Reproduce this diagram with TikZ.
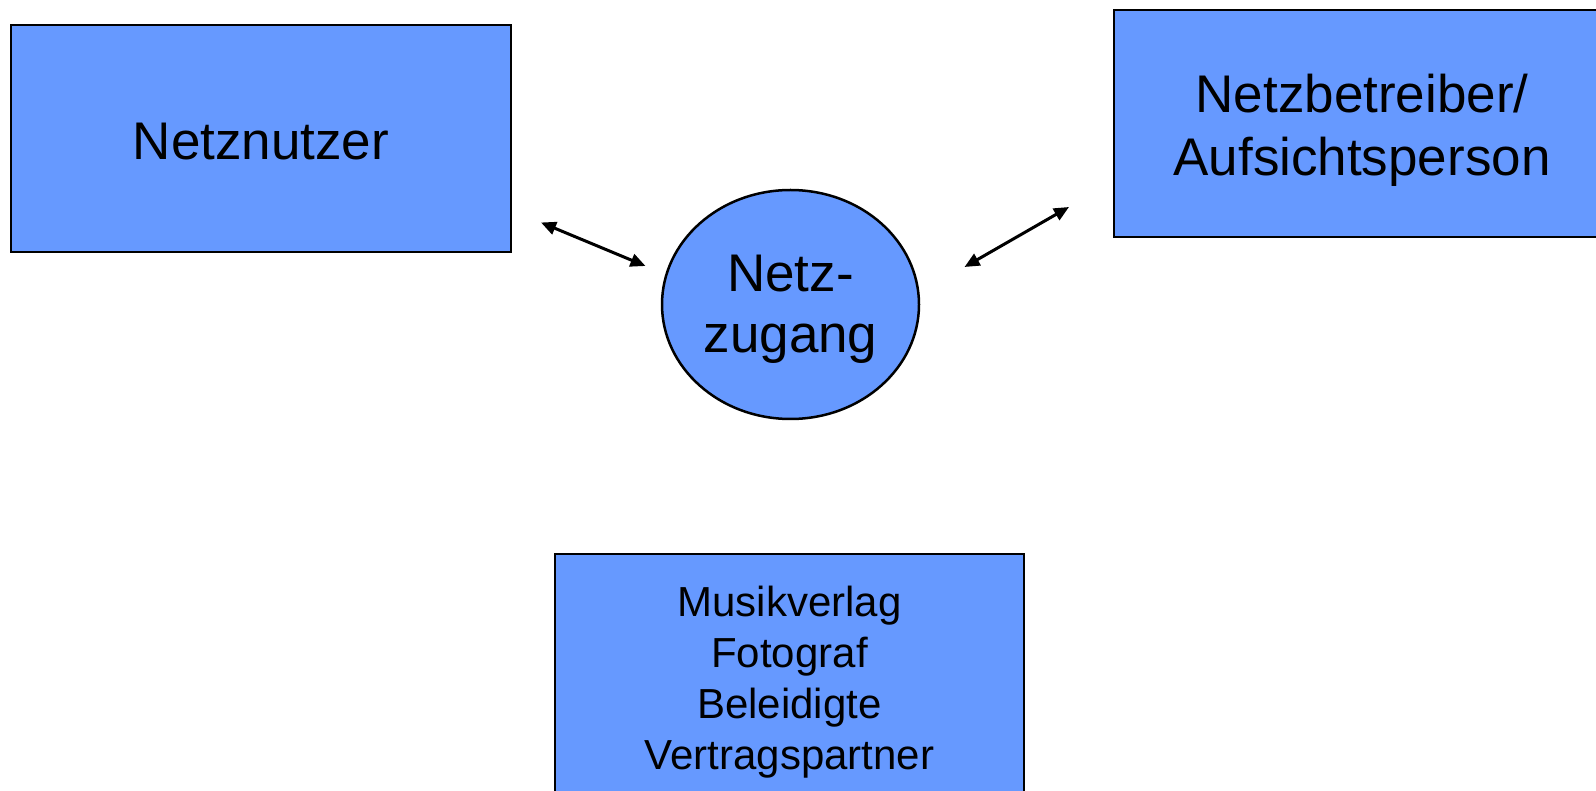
\documentclass[tikz,border=0pt]{standalone}
\usepackage{fontspec}
\setmainfont{Liberation Sans}
\usetikzlibrary{shapes.geometric}
\usetikzlibrary{arrows.meta}
\definecolor{boxblue}{HTML}{6699FF}
\tikzset{box/.style={rectangle, draw=black, fill=boxblue, line width=2.5pt, inner sep=0pt, align=center, font=\fontsize{53}{63}\selectfont},
%arrows between the parties
link/.style={{Triangle[length=15pt,width=13pt]}-{Triangle[length=15pt,width=13pt]}, line width=3pt}}
%strut to push the first line down
\newcommand{\firstline}[1]{\rule{0pt}{#1}}

\begin{document}
\begin{tikzpicture}[x=1pt,y=-1pt]
\useasboundingbox (0,0) rectangle (1596,791);
%\draw [help lines] (0,0) grid (1596,791);
% parties
\node[box, minimum width=500pt, minimum height=227pt] (nutzer) at (261,138.5) {\firstline{42pt}Netznutzer};
\node[box, minimum width=496pt, minimum height=227pt] (betreiber) at (1362,123.5) {\firstline{52pt}Netzbetreiber/\\Aufsichtsperson};
\node[box, ellipse, minimum width=257pt, minimum height=229pt, font=\fontsize{53}{61}\selectfont] (zugang) at (790.5,304.5) {\firstline{47pt}Netz-\\zugang};
\node[box, minimum width=469pt, minimum height=246pt, font=\fontsize{42}{51}\selectfont] (dritte) at (789.5,677) {\firstline{40pt}Musikverlag\\Fotograf\\Beleidigte\\Vertragspartner};

%arrow ends
\coordinate (n1) at (541,222.5);
\coordinate (z1) at (645.5,266);
\coordinate (z2) at (964.5,267);
\coordinate (b1) at (1069,207);
\draw[link] (n1) -- (z1);
\draw[link] (z2) -- (b1);

\end{tikzpicture}
\end{document}
